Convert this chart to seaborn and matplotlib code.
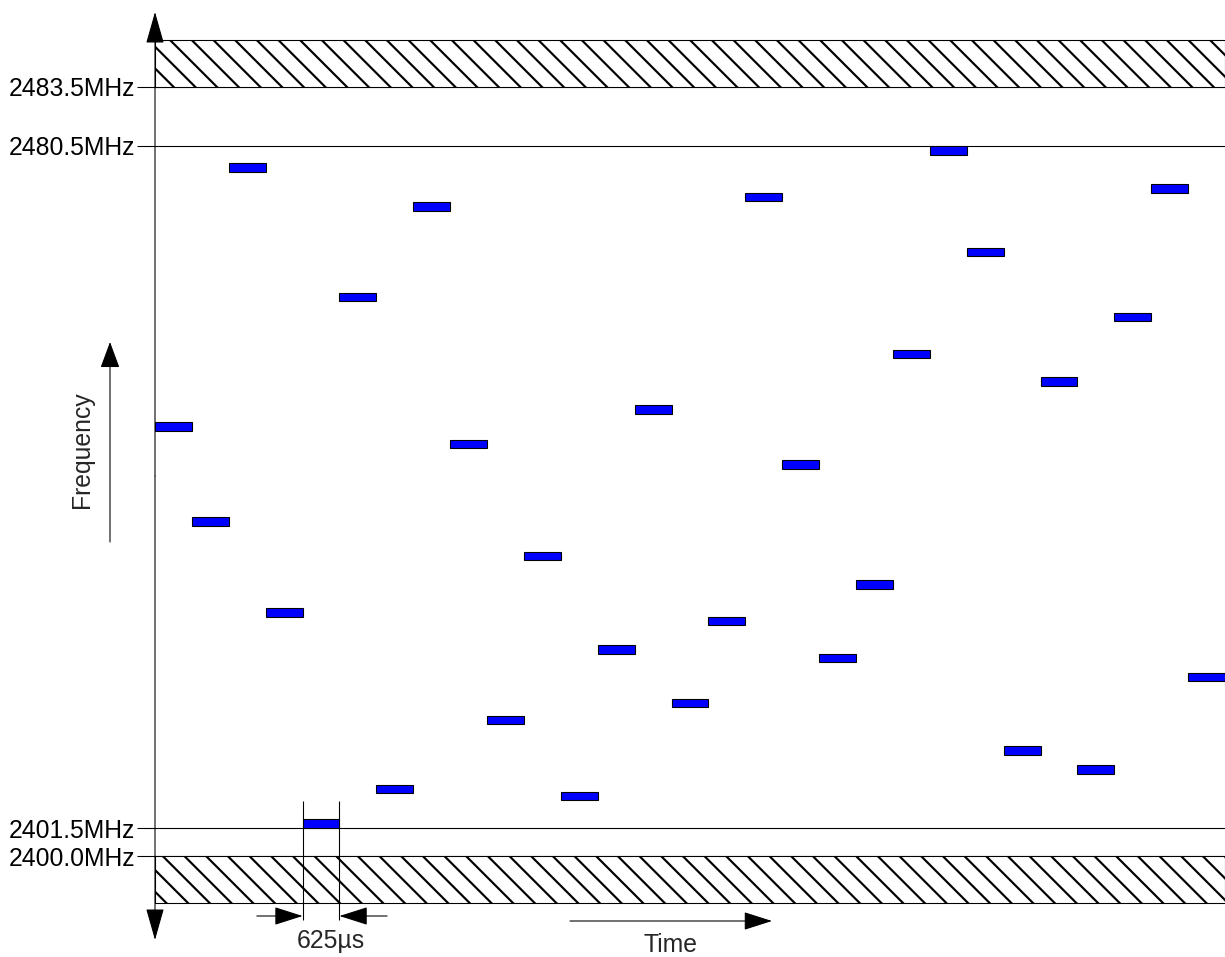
import numpy as np
import pandas as pd
import matplotlib.pyplot as plt
import seaborn as sns

# hop sequence: one channel per 625us slot
slots = list(range(29))
freq_mhz = [2448.0, 2437.0, 2478.0, 2426.5, 2402.0, 2463.0, 2406.0, 2473.5, 2446.0, 2414.0,
            2433.0, 2405.2, 2422.2, 2450.0, 2416.0, 2425.5, 2474.6, 2443.6, 2421.2, 2429.7,
            2456.4, 2480.0, 2468.2, 2410.5, 2453.2, 2408.3, 2460.7, 2475.6, 2419.0]
channel_bw = 1.0

# band edges (guard bands drawn out of scale, like the sketch)
edge_labels = ['2400.0MHz', '2401.5MHz', '2480.5MHz', '2483.5MHz']
edge_pos = [2398.25, 2401.5, 2480.5, 2487.35]
guard_depth = 5.4
marked_slot = 4

df = pd.DataFrame({'slot': slots, 'freq': freq_mhz})
df['center'] = df['slot'] + 0.5
df['height'] = channel_bw
df['bottom'] = df['freq'] - channel_bw / 2

sns.set_style('white')
plt.rcParams['font.family'] = ['Liberation Sans', 'DejaVu Sans']
plt.rcParams['hatch.linewidth'] = 1.2

DPI = 130
W, H = 1225, 957
FS = 13.7
LW = 0.6

fig = plt.figure(figsize=(W / DPI, H / DPI), dpi=DPI)
ax = fig.add_axes([155 / W, 1 - 940 / H, 1 - 155 / W, (940 - 12) / H])

sns.barplot(data=df, x='center', y='height', bottom=df['bottom'].values,
            native_scale=True, width=1, orient='x', color='#0000ff', saturation=1,
            edgecolor='black', linewidth=LW, errorbar=None, ax=ax, zorder=3)

# guard bands
ax.axhspan(edge_pos[0] - guard_depth, edge_pos[0], facecolor='white', edgecolor='black',
           hatch='\\\\', lw=LW, zorder=2)
ax.axhspan(edge_pos[-1], edge_pos[-1] + guard_depth, facecolor='white', edgecolor='black',
           hatch='\\\\', lw=LW, zorder=2)
for p in edge_pos:
    ax.axhline(p, color='black', lw=LW, zorder=1)

ax.set_xlim(0, len(slots))
ax.set_ylim(2388.53, 2496.02)
ax.set_yticks(edge_pos, edge_labels)
ax.set_xticks([])
ax.tick_params(axis='y', length=10, width=LW, pad=1, labelsize=FS, color='black',
               labelcolor='black', left=True)
ax.set_xlabel('')
ax.set_ylabel('')
for s in ax.spines.values():
    s.set_visible(False)


def arrow(style_len, style_w):
    return dict(arrowstyle=f'-|>,head_length={style_len},head_width={style_w}',
                mutation_scale=1, color='black', lw=LW, shrinkA=0, shrinkB=0)


# frequency axis with arrows at both ends
for end in (0, 1):
    ax.annotate('', xy=(0, end), xytext=(0, 0.5), xycoords='axes fraction',
                arrowprops=arrow(15.5, 4.4), annotation_clip=False)

# Frequency label + arrow
ax.annotate('', xy=(110, H - 342), xytext=(110, H - 542), xycoords='figure pixels',
            arrowprops=arrow(12.7, 4.7), annotation_clip=False)
fig.text(82 / W, 1 - 450 / H, 'Frequency', rotation=90, ha='center', va='center', fontsize=FS)

# Time label + arrow
ax.annotate('', xy=(772, H - 921), xytext=(570, H - 921), xycoords='figure pixels',
            arrowprops=arrow(13.8, 4.4), annotation_clip=False)
fig.text(671 / W, 1 - 952 / H, 'Time', ha='center', va='baseline', fontsize=FS)

# slot width marker
ax.vlines([marked_slot, marked_slot + 1], 0.0216, 0.1498, transform=ax.get_xaxis_transform(),
          color='black', lw=LW, clip_on=False, zorder=4)
ax.annotate('', xy=(marked_slot, H - 916), xytext=(marked_slot - 1.24, H - 916),
            xycoords=('data', 'figure pixels'), arrowprops=arrow(13.8, 4.4),
            annotation_clip=False)
ax.annotate('', xy=(marked_slot + 1, H - 916), xytext=(marked_slot + 2.29, H - 916),
            xycoords=('data', 'figure pixels'), arrowprops=arrow(13.8, 4.4),
            annotation_clip=False)
ax.annotate('625µs', xy=(marked_slot + 0.77, H - 948), xycoords=('data', 'figure pixels'),
            ha='center', va='baseline', fontsize=FS, annotation_clip=False)

fig.savefig('out.png', dpi=DPI)
